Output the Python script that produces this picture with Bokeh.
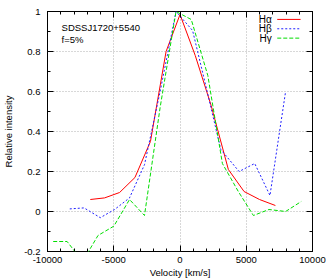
from bokeh.plotting import figure
from bokeh.models import (LinearAxis, SingleIntervalTicker, CustomJSTickFormatter,
                          Label, Arrow, Range1d)
from bokeh.embed import file_html
from bokeh.resources import INLINE

# ---- data ----
ha_v = [-6770, -5690, -4560, -3400, -2230, -1050, 0, 1150, 2350, 3650, 4835, 6000, 7200]
ha_i = [0.060, 0.068, 0.095, 0.170, 0.350, 0.800, 0.985, 0.780, 0.530, 0.210, 0.100, 0.060, 0.030]

hb_v = [-8320, -7240, -6015, -4937, -3810, -2680, -1500, -300, 950, 2050, 3080, 4460, 5640, 6790, 7970]
hb_i = [0.013, 0.018, -0.031, 0.010, 0.068, 0.234, 0.600, 1.000, 0.905, 0.600, 0.310, 0.200, 0.240, 0.080, 0.600]

hg_v = [-9570, -8520, -7350, -6190, -4990, -3810, -2680, -1500, -300, 850, 2100, 3200, 4400, 5540, 6715, 7970, 9150]
hg_i = [-0.150, -0.150, -0.250, -0.120, -0.073, 0.060, -0.020, 0.520, 1.000, 0.960, 0.680, 0.240, 0.100, -0.020, 0.010, 0.000, 0.050]

labels = ["H\u03b1", "H\u03b2", "H\u03b3"]
colors = ["#ff0000", "#2020ff", "#00dd00"]
dashes = ["solid", "2 2", "4 2"]
title_lines = ["SDSSJ1720+5540", "f=5%"]

XMIN, XMAX = -10000, 10000
YMIN, YMAX = -0.2, 1.0
FONT = "Liberation Sans"
FS = "9.5px"

p = figure(width=327, height=280, output_backend="svg", toolbar_location=None,
           x_range=Range1d(XMIN, XMAX), y_range=Range1d(YMIN, YMAX),
           min_border_left=46, min_border_right=15, min_border_top=11, min_border_bottom=28,
           x_axis_label="Velocity [km/s]", y_axis_label="Relative intensity")
p.background_fill_color = "white"
p.outline_line_color = "black"
p.outline_line_width = 1
p.outline_line_alpha = 1.0

bottom = p.below[0]
left = p.left[0]

fmt = CustomJSTickFormatter(code="return String(Number(tick.toFixed(1)));")
blank = CustomJSTickFormatter(code="return '';")
xt = SingleIntervalTicker(interval=5000, num_minor_ticks=5)
yt = SingleIntervalTicker(interval=0.2, num_minor_ticks=2)

bottom.ticker = xt
left.ticker = yt

top = LinearAxis(ticker=xt)
right = LinearAxis(ticker=yt)
p.add_layout(top, "above")
p.add_layout(right, "right")

for ax in [bottom, left, top, right]:
    ax.axis_line_color = None
    ax.major_tick_in = 6
    ax.major_tick_out = 0
    ax.minor_tick_in = 3
    ax.minor_tick_out = 0
    ax.major_tick_line_color = "black"
    ax.minor_tick_line_color = "black"
    ax.major_label_text_font = FONT
    ax.major_label_text_font_size = FS
    ax.major_label_text_color = "black"
    ax.axis_label_text_font = FONT
    ax.axis_label_text_font_size = FS
    ax.axis_label_text_font_style = "normal"
    ax.axis_label_text_color = "black"

bottom.formatter = fmt
left.formatter = fmt
for ax in [top, right]:
    ax.formatter = blank
    ax.major_label_standoff = 0

bottom.major_label_standoff = 5
bottom.axis_label_standoff = 1
left.major_label_standoff = 7
left.axis_label_standoff = 7

p.xgrid.ticker = xt
p.ygrid.ticker = yt
for g in [p.xgrid, p.ygrid]:
    g.grid_line_color = "#b0b0b0"
    g.grid_line_dash = "1 2"
    g.grid_line_width = 1

series = [(ha_v, ha_i), (hb_v, hb_i), (hg_v, hg_i)]
for (xs, ys), c, d in zip(series, colors, dashes):
    p.line(xs, ys, line_color=c, line_width=1, line_dash=d)

# legend (gnuplot style: text left of sample)
dx = XMAX - XMIN
dy = YMAX - YMIN
row_fr = [0.033, 0.072, 0.111]
for lab, c, d, fr in zip(labels, colors, dashes, row_fr):
    yy = YMAX - fr * dy
    p.add_layout(Label(x=XMIN + 0.846 * dx, y=yy, text=lab, text_align="right",
                       text_baseline="middle", text_font=FONT, text_font_size="10px",
                       text_color="black"))
    p.add_layout(Arrow(end=None, x_start=XMIN + 0.867 * dx, x_end=XMIN + 0.955 * dx,
                       y_start=yy, y_end=yy, line_color=c, line_width=1, line_dash=d))

for txt, fr in zip(title_lines, [0.065, 0.116]):
    p.add_layout(Label(x=XMIN + 0.053 * dx, y=YMAX - fr * dy, text=txt, text_align="left",
                       text_baseline="middle", text_font=FONT, text_font_size=FS,
                       text_color="black"))

open("out.html", "w").write(file_html(p, INLINE))
